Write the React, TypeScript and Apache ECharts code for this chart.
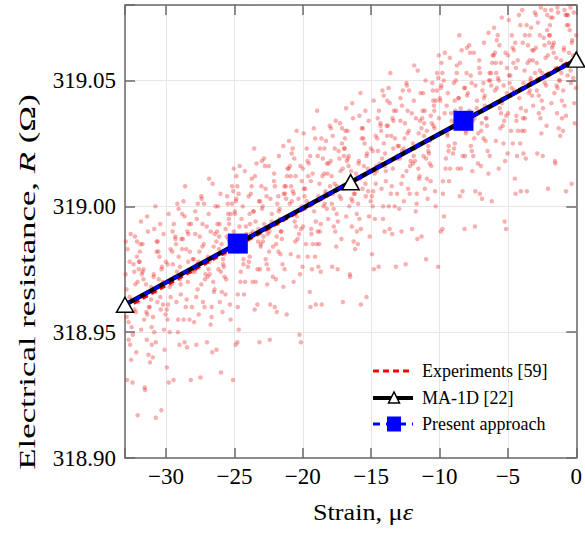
import React, { useEffect, useRef } from "react";
import * as echarts from "echarts";

const strainMin = -33;
const strainMax = 0;
const resistanceMin = 318.9;
const resistanceMax = 319.08;

const experimentsFit: number[][] = [[-33, 318.9595], [0, 319.059]];
const ma1dLine: number[][] = [[-33, 318.9609], [0, 319.0583]];
const ma1dMarkers: number[][] = [[-33, 318.9609], [-16.5, 319.0096], [0, 319.0583]];
const presentLine: number[][] = [[-33, 318.9609], [0, 319.0583]];
const presentMarkers: number[][] = [[-24.75, 318.9852], [-8.25, 319.034]];

const legendLabels = ["Experiments [59]", "MA-1D [22]", "Present approach"];

const experimentPointsA: number[][] = [
  [-32.95,318.973],[-32.88,318.956],[-32.81,318.983],[-32.73,318.947],[-32.67,318.964],[-32.59,318.989],[-32.52,318.952],[-32.45,318.930],[-32.38,318.977],[-32.31,318.959],[-32.24,318.969],[-32.17,318.942],[-32.12,318.986],[-32.07,318.917],[-32.02,318.962],
  [-31.37,318.957],[-31.92,318.982],[-31.09,318.963],[-31.64,318.975],[-31.28,318.941],[-31.83,318.994],[-31.46,318.969],[-31.05,318.952],[-31.72,318.985],[-31.56,318.928],[-31.98,318.978],[-31.19,318.960],[-31.77,318.973],[-31.41,318.947],[-31.33,318.990],
  [-30.53,318.971],[-30.15,318.951],[-30.86,318.991],[-30.30,318.976],[-30.97,318.940],[-30.42,318.964],[-30.69,318.982],[-30.78,319.000],[-30.03,318.957],[-30.90,318.973],[-30.34,318.919],[-30.61,318.986],[-30.22,318.961],[-30.48,318.980],[-30.75,318.946],
  [-29.95,318.959],[-29.88,318.977],[-29.81,318.997],[-29.73,318.950],[-29.67,318.983],[-29.59,318.969],[-29.52,318.990],[-29.45,318.931],[-29.38,318.972],[-29.31,318.987],[-29.24,318.962],[-29.17,319.001],[-29.12,318.955],[-29.07,318.980],[-29.02,318.945],
  [-28.37,318.989],[-28.92,318.965],[-28.09,318.974],[-28.64,318.996],[-28.28,318.955],[-28.83,318.983],[-28.46,318.944],[-28.05,318.979],[-28.72,319.002],[-28.56,318.960],[-28.98,318.976],[-28.19,318.931],[-28.77,318.987],[-28.41,318.970],[-28.33,318.993],
  [-27.53,318.988],[-27.15,318.971],[-27.86,318.998],[-27.30,318.962],[-27.97,318.979],[-27.42,319.004],[-27.69,318.967],[-27.78,318.945],[-27.03,318.992],[-27.90,318.974],[-27.34,318.984],[-27.61,318.957],[-27.22,319.001],[-27.48,318.932],[-27.75,318.977],
  [-26.95,318.972],[-26.88,318.997],[-26.81,318.978],[-26.73,318.990],[-26.67,318.956],[-26.59,319.009],[-26.52,318.984],[-26.45,318.967],[-26.38,319.000],[-26.31,318.943],[-26.24,318.993],[-26.17,318.975],[-26.12,318.988],[-26.07,318.962],[-26.02,319.005],
  [-25.37,318.986],[-25.92,318.966],[-25.09,319.006],[-25.64,318.991],[-25.28,318.955],[-25.83,318.979],[-25.46,318.997],[-25.05,319.015],[-25.72,318.972],[-25.56,318.988],[-25.98,318.934],[-25.19,319.001],[-25.77,318.976],[-25.41,318.995],[-25.33,318.961],
  [-24.53,318.974],[-24.15,318.992],[-24.86,319.012],[-24.30,318.965],[-24.97,318.998],[-24.42,318.984],[-24.69,319.005],[-24.78,318.946],[-24.03,318.987],[-24.90,319.002],[-24.34,318.977],[-24.61,319.016],[-24.22,318.970],[-24.48,318.995],[-24.75,318.960],
  [-23.95,319.004],[-23.88,318.980],[-23.81,318.989],[-23.73,319.011],[-23.67,318.970],[-23.59,318.998],[-23.52,318.959],[-23.45,318.994],[-23.38,319.017],[-23.31,318.975],[-23.24,318.991],[-23.17,318.946],[-23.12,319.002],[-23.07,318.985],[-23.02,319.008],
  [-22.37,319.003],[-22.92,318.986],[-22.09,319.013],[-22.64,318.977],[-22.28,318.994],[-22.83,319.019],[-22.46,318.982],[-22.05,318.960],[-22.72,319.007],[-22.56,318.989],[-22.98,318.999],[-22.19,318.972],[-22.77,319.016],[-22.41,318.947],[-22.33,318.992],
  [-21.53,318.987],[-21.15,319.012],[-21.86,318.993],[-21.30,319.005],[-21.97,318.971],[-21.42,319.024],[-21.69,318.999],[-21.78,318.982],[-21.03,319.015],[-21.90,318.958],[-21.34,319.008],[-21.61,318.990],[-21.22,319.003],[-21.48,318.977],[-21.75,319.020],
  [-20.95,319.001],[-20.88,318.981],[-20.81,319.021],[-20.73,319.006],[-20.67,318.970],[-20.59,318.994],[-20.52,319.012],[-20.45,319.030],[-20.38,318.987],[-20.31,319.003],[-20.24,318.949],[-20.17,319.016],[-20.12,318.991],[-20.07,319.010],[-20.02,318.976],
  [-19.37,318.989],[-19.92,319.007],[-19.09,319.027],[-19.64,318.980],[-19.28,319.013],[-19.83,318.999],[-19.46,319.020],[-19.05,318.961],[-19.72,319.002],[-19.56,319.017],[-19.98,318.992],[-19.19,319.031],[-19.77,318.985],[-19.41,319.010],[-19.33,318.975],
  [-18.53,319.019],[-18.15,318.995],[-18.86,319.004],[-18.30,319.026],[-18.97,318.985],[-18.42,319.013],[-18.69,318.974],[-18.78,319.009],[-18.03,319.032],[-18.90,318.990],[-18.34,319.006],[-18.61,318.961],[-18.22,319.017],[-18.48,319.000],[-18.75,319.023],
  [-17.95,319.018],[-17.88,319.001],[-17.81,319.028],[-17.73,318.992],[-17.67,319.009],[-17.59,319.034],[-17.52,318.997],[-17.45,318.975],[-17.38,319.022],[-17.31,319.004],[-17.24,319.014],[-17.17,318.987],[-17.12,319.031],[-17.07,318.962],[-17.02,319.007],
  [-16.37,319.002],[-16.92,319.027],[-16.09,319.008],[-16.64,319.020],[-16.28,318.986],[-16.83,319.039],[-16.46,319.014],[-16.05,318.997],[-16.72,319.030],[-16.56,318.973],[-16.98,319.023],[-16.19,319.005],[-16.77,319.018],[-16.41,318.992],[-16.33,319.035],
  [-15.53,319.016],[-15.15,318.996],[-15.86,319.036],[-15.30,319.021],[-15.97,318.985],[-15.42,319.009],[-15.69,319.027],[-15.78,319.045],[-15.03,319.002],[-15.90,319.018],[-15.34,318.964],[-15.61,319.031],[-15.22,319.006],[-15.48,319.025],[-15.75,318.991],
  [-14.95,319.004],[-14.88,319.022],[-14.81,319.042],[-14.73,318.995],[-14.67,319.028],[-14.59,319.014],[-14.52,319.035],[-14.45,318.976],[-14.38,319.017],[-14.31,319.032],[-14.24,319.007],[-14.17,319.046],[-14.12,319.000],[-14.07,319.025],[-14.02,318.990],
  [-13.37,319.034],[-13.92,319.010],[-13.09,319.019],[-13.64,319.041],[-13.28,319.000],[-13.83,319.028],[-13.46,318.989],[-13.05,319.024],[-13.72,319.047],[-13.56,319.005],[-13.98,319.021],[-13.19,318.976],[-13.77,319.032],[-13.41,319.015],[-13.33,319.038],
  [-12.53,319.033],[-12.15,319.016],[-12.86,319.043],[-12.30,319.007],[-12.97,319.024],[-12.42,319.049],[-12.69,319.012],[-12.78,318.990],[-12.03,319.037],[-12.90,319.019],[-12.34,319.029],[-12.61,319.002],[-12.22,319.046],[-12.48,318.977],[-12.75,319.022],
  [-11.95,319.017],[-11.88,319.042],[-11.81,319.023],[-11.73,319.035],[-11.67,319.001],[-11.59,319.054],[-11.52,319.029],[-11.45,319.012],[-11.38,319.045],[-11.31,318.988],[-11.24,319.038],[-11.17,319.020],[-11.12,319.033],[-11.07,319.007],[-11.02,319.050],
  [-10.37,319.031],[-10.92,319.011],[-10.09,319.051],[-10.64,319.036],[-10.28,319.000],[-10.83,319.024],[-10.46,319.042],[-10.05,319.060],[-10.72,319.017],[-10.56,319.033],[-10.98,318.979],[-10.19,319.046],[-10.77,319.021],[-10.41,319.040],[-10.33,319.006],
  [-9.53,319.019],[-9.15,319.037],[-9.86,319.057],[-9.30,319.010],[-9.97,319.043],[-9.42,319.029],[-9.69,319.050],[-9.78,318.991],[-9.03,319.032],[-9.90,319.047],[-9.34,319.022],[-9.61,319.061],[-9.22,319.015],[-9.48,319.040],[-9.75,319.005],
  [-8.95,319.049],[-8.88,319.025],[-8.81,319.034],[-8.73,319.056],[-8.67,319.015],[-8.59,319.043],[-8.52,319.004],[-8.45,319.039],[-8.38,319.062],[-8.31,319.020],[-8.24,319.036],[-8.17,318.991],[-8.12,319.047],[-8.07,319.030],[-8.02,319.053],
  [-7.37,319.048],[-7.92,319.031],[-7.09,319.058],[-7.64,319.022],[-7.28,319.039],[-7.83,319.064],[-7.46,319.027],[-7.05,319.005],[-7.72,319.052],[-7.56,319.034],[-7.98,319.044],[-7.19,319.017],[-7.77,319.061],[-7.41,318.992],[-7.33,319.037],
  [-6.53,319.032],[-6.15,319.057],[-6.86,319.038],[-6.30,319.050],[-6.97,319.016],[-6.42,319.069],[-6.69,319.044],[-6.78,319.027],[-6.03,319.060],[-6.90,319.003],[-6.34,319.053],[-6.61,319.035],[-6.22,319.048],[-6.48,319.022],[-6.75,319.065],
  [-5.95,319.046],[-5.88,319.026],[-5.81,319.066],[-5.73,319.051],[-5.67,319.015],[-5.59,319.039],[-5.52,319.057],[-5.45,319.075],[-5.38,319.032],[-5.31,319.048],[-5.24,318.994],[-5.17,319.061],[-5.12,319.036],[-5.07,319.055],[-5.02,319.021],
  [-4.37,319.034],[-4.92,319.052],[-4.09,319.072],[-4.64,319.025],[-4.28,319.058],[-4.83,319.044],[-4.46,319.065],[-4.05,319.006],[-4.72,319.047],[-4.56,319.062],[-4.98,319.037],[-4.19,319.076],[-4.77,319.030],[-4.41,319.055],[-4.33,319.020],
  [-3.53,319.064],[-3.15,319.040],[-3.86,319.049],[-3.30,319.071],[-3.97,319.030],[-3.42,319.058],[-3.69,319.019],[-3.78,319.054],[-3.03,319.077],[-3.90,319.035],[-3.34,319.051],[-3.61,319.006],[-3.22,319.062],[-3.48,319.045],[-3.75,319.068],
  [-2.95,319.063],[-2.88,319.046],[-2.81,319.073],[-2.73,319.037],[-2.67,319.054],[-2.59,319.079],[-2.52,319.042],[-2.45,319.020],[-2.38,319.067],[-2.31,319.049],[-2.24,319.059],[-2.17,319.032],[-2.12,319.076],[-2.07,319.007],[-2.02,319.052],
  [-1.37,319.047],[-1.92,319.072],[-1.09,319.053],[-1.64,319.065],[-1.28,319.031],[-1.83,319.078],[-1.46,319.059],[-1.05,319.042],[-1.72,319.075],[-1.56,319.018],[-1.98,319.068],[-1.19,319.050],[-1.77,319.063],[-1.41,319.037],[-1.33,319.077],
  [-0.53,319.061],[-0.15,319.041],[-0.86,319.078],[-0.30,319.066],[-0.97,319.030],[-0.42,319.054],[-0.69,319.072],[-0.78,319.076],[-0.03,319.047],[-0.90,319.063],[-0.34,319.009],[-0.61,319.076],[-0.22,319.051],[-0.48,319.070],[-0.75,319.036],
];

const experimentPointsB: number[][] = [
  [-32.89,318.967],[-32.43,318.949],[-32.66,318.978],[-32.20,318.958],[-32.94,318.986],[-32.55,318.939],[-32.08,318.970],[-32.74,318.954],[-32.32,318.974],[-32.85,318.931],[-32.50,318.963],[-32.13,318.980],[-32.62,318.945],[-32.27,318.988],[-32.80,318.960],
  [-31.26,318.960],[-31.71,318.974],[-31.04,318.945],[-31.87,318.985],[-31.49,318.965],[-31.60,318.955],[-31.93,318.978],[-31.17,318.938],[-31.65,318.971],[-31.38,318.996],[-31.82,318.951],[-31.10,318.968],[-31.53,318.927],[-31.99,318.975],[-31.44,318.958],
  [-30.56,318.982],[-30.79,318.966],[-30.33,318.975],[-30.11,318.943],[-30.68,318.986],[-30.95,318.956],[-30.24,318.970],[-30.42,318.993],[-30.86,318.950],[-30.01,318.978],[-30.63,318.962],[-30.75,318.916],[-30.18,318.989],[-30.39,318.959],[-30.91,318.972],
  [-29.89,318.955],[-29.43,318.993],[-29.66,318.964],[-29.20,318.974],[-29.94,318.936],[-29.55,318.982],[-29.08,318.999],[-29.74,318.968],[-29.32,318.988],[-29.85,318.961],[-29.50,318.977],[-29.13,318.950],[-29.62,318.971],[-29.27,318.985],[-29.80,318.930],
  [-28.26,318.982],[-28.71,318.955],[-28.04,318.975],[-28.87,318.987],[-28.49,318.963],[-28.60,319.008],[-28.93,318.969],[-28.17,318.993],[-28.65,318.946],[-28.38,318.978],[-28.82,318.997],[-28.10,318.960],[-28.53,318.983],[-28.99,318.971],[-28.44,318.990],
  [-27.56,318.982],[-27.79,318.964],[-27.33,318.993],[-27.11,318.973],[-27.68,319.001],[-27.95,318.954],[-27.24,318.985],[-27.42,318.969],[-27.86,318.989],[-27.01,318.946],[-27.63,318.978],[-27.75,318.995],[-27.18,318.960],[-27.39,319.003],[-27.91,318.975],
  [-26.89,318.975],[-26.43,318.989],[-26.66,318.960],[-26.20,319.000],[-26.94,318.980],[-26.55,318.970],[-26.08,318.993],[-26.74,318.953],[-26.32,318.986],[-26.85,319.011],[-26.50,318.966],[-26.13,318.983],[-26.62,318.942],[-26.27,318.990],[-26.80,318.973],
  [-25.26,318.997],[-25.71,318.981],[-25.04,318.990],[-25.87,318.958],[-25.49,319.001],[-25.60,318.971],[-25.93,318.985],[-25.17,319.008],[-25.65,318.965],[-25.38,318.993],[-25.82,318.977],[-25.10,318.931],[-25.53,319.004],[-25.99,318.974],[-25.44,318.987],
  [-24.56,318.970],[-24.79,319.008],[-24.33,318.979],[-24.11,318.989],[-24.68,318.951],[-24.95,318.997],[-24.24,319.014],[-24.42,318.983],[-24.86,319.003],[-24.01,318.976],[-24.63,318.992],[-24.75,318.965],[-24.18,318.986],[-24.39,319.000],[-24.91,318.945],
  [-23.89,318.997],[-23.43,318.970],[-23.66,318.990],[-23.20,319.002],[-23.94,318.978],[-23.55,319.023],[-23.08,318.984],[-23.74,319.008],[-23.32,318.961],[-23.85,318.993],[-23.50,319.012],[-23.13,318.975],[-23.62,318.998],[-23.27,318.986],[-23.80,319.005],
  [-22.26,318.997],[-22.71,318.979],[-22.04,319.008],[-22.87,318.988],[-22.49,319.016],[-22.60,318.969],[-22.93,319.000],[-22.17,318.984],[-22.65,319.004],[-22.38,318.961],[-22.82,318.993],[-22.10,319.010],[-22.53,318.975],[-22.99,319.018],[-22.44,318.990],
  [-21.56,318.990],[-21.79,319.004],[-21.33,318.975],[-21.11,319.015],[-21.68,318.995],[-21.95,318.985],[-21.24,319.008],[-21.42,318.968],[-21.86,319.001],[-21.01,319.026],[-21.63,318.981],[-21.75,318.998],[-21.18,318.957],[-21.39,319.005],[-21.91,318.988],
  [-20.89,319.012],[-20.43,318.996],[-20.66,319.005],[-20.20,318.973],[-20.94,319.016],[-20.55,318.986],[-20.08,319.000],[-20.74,319.023],[-20.32,318.980],[-20.85,319.008],[-20.50,318.992],[-20.13,318.946],[-20.62,319.019],[-20.27,318.989],[-20.80,319.002],
  [-19.26,318.985],[-19.71,319.023],[-19.04,318.994],[-19.87,319.004],[-19.49,318.966],[-19.60,319.012],[-19.93,319.029],[-19.17,318.998],[-19.65,319.018],[-19.38,318.991],[-19.82,319.007],[-19.10,318.980],[-19.53,319.001],[-19.99,319.015],[-19.44,318.960],
  [-18.56,319.012],[-18.79,318.985],[-18.33,319.005],[-18.11,319.017],[-18.68,318.993],[-18.95,319.038],[-18.24,318.999],[-18.42,319.023],[-18.86,318.976],[-18.01,319.008],[-18.63,319.027],[-18.75,318.990],[-18.18,319.013],[-18.39,319.001],[-18.91,319.020],
  [-17.89,319.012],[-17.43,318.994],[-17.66,319.023],[-17.20,319.003],[-17.94,319.031],[-17.55,318.984],[-17.08,319.015],[-17.74,318.999],[-17.32,319.019],[-17.85,318.976],[-17.50,319.008],[-17.13,319.025],[-17.62,318.990],[-17.27,319.033],[-17.80,319.005],
  [-16.26,319.005],[-16.71,319.019],[-16.04,318.990],[-16.87,319.030],[-16.49,319.010],[-16.60,319.000],[-16.93,319.023],[-16.17,318.983],[-16.65,319.016],[-16.38,319.041],[-16.82,318.996],[-16.10,319.013],[-16.53,318.972],[-16.99,319.020],[-16.44,319.003],
  [-15.56,319.027],[-15.79,319.011],[-15.33,319.020],[-15.11,318.988],[-15.68,319.031],[-15.95,319.001],[-15.24,319.015],[-15.42,319.038],[-15.86,318.995],[-15.01,319.023],[-15.63,319.007],[-15.75,318.961],[-15.18,319.034],[-15.39,319.004],[-15.91,319.017],
  [-14.89,319.000],[-14.43,319.038],[-14.66,319.009],[-14.20,319.019],[-14.94,318.981],[-14.55,319.027],[-14.08,319.044],[-14.74,319.013],[-14.32,319.033],[-14.85,319.006],[-14.50,319.022],[-14.13,318.995],[-14.62,319.016],[-14.27,319.030],[-14.80,318.975],
  [-13.26,319.027],[-13.71,319.000],[-13.04,319.020],[-13.87,319.032],[-13.49,319.008],[-13.60,319.053],[-13.93,319.014],[-13.17,319.038],[-13.65,318.991],[-13.38,319.023],[-13.82,319.042],[-13.10,319.005],[-13.53,319.028],[-13.99,319.016],[-13.44,319.035],
  [-12.56,319.027],[-12.79,319.009],[-12.33,319.038],[-12.11,319.018],[-12.68,319.046],[-12.95,318.999],[-12.24,319.030],[-12.42,319.014],[-12.86,319.034],[-12.01,318.991],[-12.63,319.023],[-12.75,319.040],[-12.18,319.005],[-12.39,319.048],[-12.91,319.020],
  [-11.89,319.020],[-11.43,319.034],[-11.66,319.005],[-11.20,319.045],[-11.94,319.025],[-11.55,319.015],[-11.08,319.038],[-11.74,318.998],[-11.32,319.031],[-11.85,319.056],[-11.50,319.011],[-11.13,319.028],[-11.62,318.987],[-11.27,319.035],[-11.80,319.018],
  [-10.26,319.042],[-10.71,319.026],[-10.04,319.035],[-10.87,319.003],[-10.49,319.046],[-10.60,319.016],[-10.93,319.030],[-10.17,319.053],[-10.65,319.010],[-10.38,319.038],[-10.82,319.022],[-10.10,318.976],[-10.53,319.049],[-10.99,319.019],[-10.44,319.032],
  [-9.56,319.015],[-9.79,319.053],[-9.33,319.024],[-9.11,319.034],[-9.68,318.996],[-9.95,319.042],[-9.24,319.059],[-9.42,319.028],[-9.86,319.048],[-9.01,319.021],[-9.63,319.037],[-9.75,319.010],[-9.18,319.031],[-9.39,319.045],[-9.91,318.990],
  [-8.89,319.042],[-8.43,319.015],[-8.66,319.035],[-8.20,319.047],[-8.94,319.023],[-8.55,319.068],[-8.08,319.029],[-8.74,319.053],[-8.32,319.006],[-8.85,319.038],[-8.50,319.057],[-8.13,319.020],[-8.62,319.043],[-8.27,319.031],[-8.80,319.050],
  [-7.26,319.042],[-7.71,319.024],[-7.04,319.053],[-7.87,319.033],[-7.49,319.061],[-7.60,319.014],[-7.93,319.045],[-7.17,319.029],[-7.65,319.049],[-7.38,319.006],[-7.82,319.038],[-7.10,319.055],[-7.53,319.020],[-7.99,319.063],[-7.44,319.035],
  [-6.56,319.035],[-6.79,319.049],[-6.33,319.020],[-6.11,319.060],[-6.68,319.040],[-6.95,319.030],[-6.24,319.053],[-6.42,319.013],[-6.86,319.046],[-6.01,319.071],[-6.63,319.026],[-6.75,319.043],[-6.18,319.002],[-6.39,319.050],[-6.91,319.033],
  [-5.89,319.057],[-5.43,319.041],[-5.66,319.050],[-5.20,319.018],[-5.94,319.061],[-5.55,319.031],[-5.08,319.045],[-5.74,319.068],[-5.32,319.025],[-5.85,319.053],[-5.50,319.037],[-5.13,318.991],[-5.62,319.064],[-5.27,319.034],[-5.80,319.047],
  [-4.26,319.030],[-4.71,319.068],[-4.04,319.039],[-4.87,319.049],[-4.49,319.011],[-4.60,319.057],[-4.93,319.074],[-4.17,319.043],[-4.65,319.063],[-4.38,319.036],[-4.82,319.052],[-4.10,319.025],[-4.53,319.046],[-4.99,319.060],[-4.44,319.005],
  [-3.56,319.057],[-3.79,319.030],[-3.33,319.050],[-3.11,319.062],[-3.68,319.038],[-3.95,319.078],[-3.24,319.044],[-3.42,319.068],[-3.86,319.021],[-3.01,319.053],[-3.63,319.072],[-3.75,319.035],[-3.18,319.058],[-3.39,319.046],[-3.91,319.065],
  [-2.89,319.057],[-2.43,319.039],[-2.66,319.068],[-2.20,319.048],[-2.94,319.076],[-2.55,319.029],[-2.08,319.060],[-2.74,319.044],[-2.32,319.064],[-2.85,319.021],[-2.50,319.053],[-2.13,319.070],[-2.62,319.035],[-2.27,319.078],[-2.80,319.050],
  [-1.26,319.050],[-1.71,319.064],[-1.04,319.035],[-1.87,319.075],[-1.49,319.055],[-1.60,319.045],[-1.93,319.068],[-1.17,319.028],[-1.65,319.061],[-1.38,319.079],[-1.82,319.041],[-1.10,319.058],[-1.53,319.017],[-1.99,319.065],[-1.44,319.048],
  [-0.56,319.072],[-0.79,319.056],[-0.33,319.065],[-0.11,319.033],[-0.68,319.076],[-0.95,319.046],[-0.24,319.060],[-0.42,319.079],[-0.86,319.040],[-0.01,319.068],[-0.63,319.052],[-0.75,319.006],[-0.18,319.077],[-0.39,319.049],[-0.91,319.062],
];

const SERIF = "'Liberation Serif', 'Times New Roman', serif";
const FRAME = "#6a6a6a";
const GRIDC = "#e6e6e6";

function fmtX(v: number): string {
  if (Math.abs(v / 5 - Math.round(v / 5)) > 1e-6) return "";
  if (v < 0) return "\u2212" + Math.abs(v);
  return String(v);
}
function fmtY(v: number): string {
  if (Math.abs(v * 20 - Math.round(v * 20)) > 1e-6) return "";
  return v.toFixed(2);
}

export default function App() {
  const ref = useRef<HTMLDivElement>(null);
  useEffect(() => {
    if (!ref.current) return;
    const chart = echarts.init(ref.current, undefined, { renderer: "svg" });
    const tickStyle = { inside: true, length: 10, lineStyle: { color: FRAME, width: 1.5 } };
    const lineStyle = { show: true, onZero: false, lineStyle: { color: FRAME, width: 1.5 } };
    const lx = 373, lx2 = 413, tx = 422;
    const rows = [371, 398, 424];
    chart.setOption({
      animation: false,
      grid: { left: 125, right: 7, top: 5, bottom: 76 },
      xAxis: [
        {
          type: "value", min: strainMin, max: strainMax, minInterval: 5, maxInterval: 5,
          axisLine: lineStyle, axisTick: tickStyle,
          axisLabel: { formatter: fmtX, color: "#000", fontFamily: SERIF, fontSize: 23, margin: 7, hideOverlap: false },
          splitLine: { show: true, lineStyle: { color: GRIDC, width: 1 } },
        },
        {
          type: "value", position: "top", min: strainMin, max: strainMax, minInterval: 5, maxInterval: 5,
          axisLine: lineStyle, axisTick: tickStyle, axisLabel: { show: false }, splitLine: { show: false },
        },
      ],
      yAxis: [
        {
          type: "value", min: resistanceMin, max: resistanceMax, interval: 0.05,
          axisLine: lineStyle, axisTick: tickStyle,
          axisLabel: { formatter: fmtY, color: "#000", fontFamily: SERIF, fontSize: 23, margin: 9, hideOverlap: false },
          splitLine: { show: true, lineStyle: { color: GRIDC, width: 1 } },
        },
        {
          type: "value", position: "right", min: resistanceMin, max: resistanceMax, interval: 0.05,
          axisLine: lineStyle, axisTick: tickStyle, axisLabel: { show: false }, splitLine: { show: false },
        },
      ],
      series: [
        {
          type: "scatter", data: experimentPointsA.concat(experimentPointsB), symbolSize: 4.5, z: 1,
          itemStyle: { color: "rgba(235, 20, 20, 0.42)" },
          silent: true, large: false,
        },
        {
          type: "line", data: experimentsFit, symbol: "none", z: 2,
          lineStyle: { color: "#ff0000", width: 3, type: [6, 4] },
        },
        {
          type: "line", data: ma1dLine, symbol: "none", z: 3,
          lineStyle: { color: "#000000", width: 4.5 },
        },
        {
          type: "line", data: presentLine, symbol: "none", z: 4,
          lineStyle: { color: "#0000ff", width: 3.5, type: [6, 5] },
        },
        {
          type: "scatter", data: ma1dMarkers, symbol: "triangle", symbolSize: [17, 15], z: 5, clip: false,
          itemStyle: { color: "#ffffff", borderColor: "#000000", borderWidth: 1.5, opacity: 1 },
        },
        {
          type: "scatter", data: presentMarkers, symbol: "rect", symbolSize: 20, z: 6, clip: false,
          itemStyle: { color: "#0000ff", opacity: 1 },
        },
      ],
      graphic: [
        {
          type: "text", x: 363, y: 512, z: 100, scaleX: 1.09,
          style: {
            text: "Strain, \u03bc{i|\u03b5}", fontFamily: SERIF, fontSize: 24, fill: "#000",
            align: "center", verticalAlign: "middle",
            rich: { i: { fontStyle: "italic", fontFamily: SERIF, fontSize: 24, fill: "#000" } },
          },
        },
        {
          type: "text", x: 27, y: 282, rotation: Math.PI / 2, scaleX: 1.45, z: 100,
          style: {
            text: "Electrical resistance, {i|R} (\u03a9)", fontFamily: SERIF, fontSize: 24, fill: "#000",
            align: "center", verticalAlign: "middle",
            rich: { i: { fontStyle: "italic", fontFamily: SERIF, fontSize: 24, fill: "#000" } },
          },
        },
        { type: "line", z: 100, shape: { x1: lx, y1: rows[0], x2: lx2, y2: rows[0] }, style: { stroke: "#ff0000", lineWidth: 3, lineDash: [6, 4] } },
        { type: "text", z: 100, x: tx, y: rows[0], style: { text: legendLabels[0], fontFamily: SERIF, fontSize: 18, fill: "#000", verticalAlign: "middle" } },
        { type: "line", z: 100, shape: { x1: lx, y1: rows[1], x2: lx2, y2: rows[1] }, style: { stroke: "#000000", lineWidth: 4 } },
        { type: "polygon", z: 101, shape: { points: [[394, rows[1] - 6], [388.5, rows[1] + 5], [399.5, rows[1] + 5]] }, style: { fill: "#ffffff", stroke: "#000000", lineWidth: 1.5 } },
        { type: "text", z: 100, x: tx, y: rows[1], style: { text: legendLabels[1], fontFamily: SERIF, fontSize: 18, fill: "#000", verticalAlign: "middle" } },
        { type: "line", z: 100, shape: { x1: lx, y1: rows[2], x2: lx2, y2: rows[2] }, style: { stroke: "#0000ff", lineWidth: 3, lineDash: [7, 6] } },
        { type: "rect", z: 101, shape: { x: 387, y: rows[2] - 7.5, width: 14, height: 15 }, style: { fill: "#0000ff" } },
        { type: "text", z: 100, x: tx, y: rows[2], style: { text: legendLabels[2], fontFamily: SERIF, fontSize: 18, fill: "#000", verticalAlign: "middle" } },
      ],
    });
    return () => chart.dispose();
  }, []);
  return <div ref={ref} style={{ position: "absolute", left: 0, top: 0, width: 585, height: 534 }} />;
}
